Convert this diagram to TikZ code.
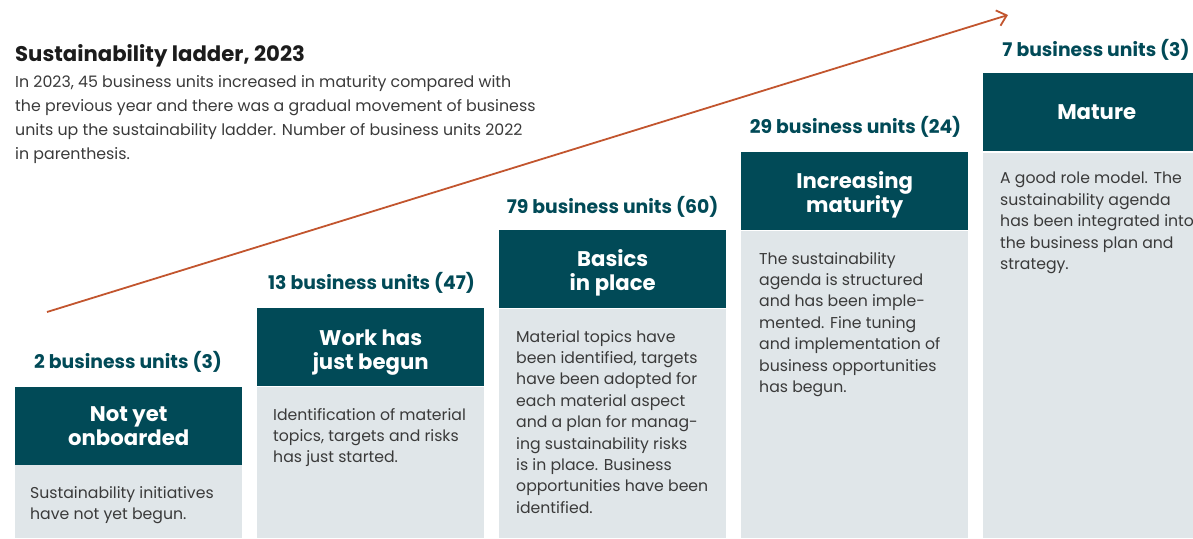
\documentclass[tikz,border=0pt]{standalone}
\usepackage{fontspec}
\setmainfont{Poppins}
\usetikzlibrary{arrows.meta}
\definecolor{teal}{HTML}{014A57}
\definecolor{paleblue}{HTML}{E0E6E9}
\definecolor{bodytext}{HTML}{3A3A3A}
\definecolor{titletext}{HTML}{1C1C1C}
\definecolor{rust}{HTML}{C2552E}
\tikzset{
  header/.style={fill=teal, draw=none, minimum width=227pt, minimum height=78pt,
    inner sep=0pt, anchor=north west},
  headtext/.style={text=white, align=center, inner sep=0pt,
    font=\fontsize{21.2}{24}\selectfont\bfseries},
  panel/.style={fill=paleblue, draw=none, inner sep=0pt, anchor=north west},
  count/.style={text=teal, anchor=base, inner sep=0pt,
    font=\fontsize{18.8}{21}\selectfont\bfseries},
  desc/.style={text=bodytext, anchor=north west, inner sep=0pt, align=left,
    font=\fontsize{15.7}{21.4}\selectfont},
}
\begin{document}
\begin{tikzpicture}[x=1pt,y=1pt]
\useasboundingbox (0,0) rectangle (1193,538);
\clip (0,0) rectangle (1193,538);

% title and introduction
\node[anchor=base west, inner sep=0pt, text=titletext,
  font=\fontsize{21.2}{24}\selectfont\bfseries] (title) at (15,476) {Sustainability ladder, 2023};
\node[anchor=north west, inner sep=0pt, align=left, text=bodytext,
  font=\fontsize{15.8}{24}\selectfont] (intro) at (15,463) {In 2023, 45 business units increased in maturity compared with\\
the previous year and there was a gradual movement of business\\
units up the sustainability ladder. Number of business units 2022\\
in parenthesis.};

% ladder arrow
\coordinate (arrowstart) at (47,226);
\coordinate (arrowend) at (1008,523);
\draw[rust, line width=1.8pt, -{Straight Barb[length=9pt,width=16pt,line width=1.8pt]}] (arrowstart) -- (arrowend);

% step 1
\path[panel] (15,73) rectangle (242,0);
\node[header] (h1) at (15,151) {};
\node[headtext] (t1) at (h1.center) {Not yet\\onboarded};
\node[count] (c1) at (128,169) {2 business units (3)};
\node[desc] (d1) at (30,52) {Sustainability initiatives\\have not yet begun.};

% step 2
\path[panel] (257,151) rectangle (484,0);
\node[header] (h2) at (257,230) {};
\node[headtext] (t2) at ([yshift=-5pt]h2.center) {Work has\\just begun};
\node[count] (c2) at (371.5,248) {13 business units (47)};
\node[desc] (d2) at (273,130) {Identification of material\\topics, targets and risks\\has just started.};

% step 3
\path[panel] (499,229) rectangle (726,0);
\node[header] (h3) at (499,308) {};
\node[headtext] (t3) at ([yshift=-4pt]h3.center) {Basics\\in place};
\node[count] (c3) at (612.5,324) {79 business units (60)};
\node[desc] (d3) at (516,208) {Material topics have\\been identified, targets\\have been adopted for\\each material aspect\\and a plan for manag-\\ing sustainability risks\\is in place. Business\\opportunities have been\\identified.};

% step 4
\path[panel] (741,307) rectangle (968,0);
\node[header] (h4) at (741,386) {};
\node[headtext] (t4) at ([yshift=-4pt]h4.center) {Increasing\\maturity};
\node[count] (c4) at (855.5,404) {29 business units (24)};
\node[desc] (d4) at (759,286) {The sustainability\\agenda is structured\\and has been imple-\\mented. Fine tuning\\and implementation of\\business opportunities\\has begun.};

% step 5
\path[panel] (983,385) rectangle (1210,0);
\node[header] (h5) at (983,465) {};
\node[headtext] (t5) at (h5.center) {Mature};
\node[count] (c5) at (1096,481) {7 business units (3)};
\node[desc] (d5) at (1000,366) {A good role model. The\\sustainability agenda\\has been integrated into\\the business plan and\\strategy.};
\end{tikzpicture}
\end{document}
